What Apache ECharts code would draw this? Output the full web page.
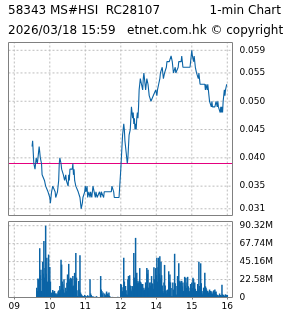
<!DOCTYPE html>
<html><head><meta charset="utf-8">
<script src="https://cdn.jsdelivr.net/npm/echarts@6/dist/echarts.min.js"></script>
<style>html,body{margin:0;padding:0;background:#fff;}#c{width:285px;height:318px;}</style>
</head><body><div id="c"></div>
<script>
// ---- texts ----
const headerLeft = '58343 MS#HSI  RC28107';
const headerRight = '1-min Chart';
const headerLine2 = '2026/03/18 15:59   etnet.com.hk \u00a9 copyright';

// ---- axis ticks (session minutes from 09:00, lunch 12:00-13:00 removed) ----
const xTickMinutes = [0, 60, 120, 180, 240, 300, 360];
const xTickLabels = ['09', '10', '11', '12', '14', '15', '16'];
const priceTicks = [0.031, 0.035, 0.040, 0.045, 0.050, 0.055, 0.059];
const volumeTicks = [0, 22.58, 45.16, 67.74, 90.32];
const volumeTickLabels = ['0', '22.58M', '45.16M', '67.74M', '90.32M'];
const prevClose = 0.039;

const amStart = 30;   // 09:30
const pmStart = 180;  // 13:00

// ---- price, one value per minute ----
const amPrice = [
0.042,0.043,0.041,0.039,0.039,0.038,0.039,0.040,0.040,0.039,
0.040,0.041,0.042,0.041,0.040,0.040,0.039,0.037,0.037,0.037,
0.037,0.036,0.036,0.035,0.035,0.035,0.035,0.034,0.034,0.034,
0.033,0.032,0.033,0.034,0.034,0.035,0.035,0.035,0.035,0.034,
0.033,0.033,0.033,0.034,0.034,0.036,0.039,0.040,0.040,0.039,
0.038,0.038,0.038,0.037,0.037,0.036,0.036,0.037,0.036,0.036,
0.036,0.035,0.037,0.036,0.038,0.038,0.038,0.038,0.038,0.039,
0.037,0.038,0.036,0.036,0.035,0.035,0.035,0.035,0.034,0.034,
0.034,0.033,0.032,0.031,0.031,0.032,0.033,0.033,0.033,0.034,
0.035,0.034,0.034,0.035,0.033,0.033,0.034,0.034,0.033,0.034,
0.034,0.033,0.034,0.035,0.035,0.034,0.034,0.033,0.034,0.034,
0.033,0.033,0.033,0.033,0.034,0.034,0.033,0.034,0.034,0.034,
0.034,0.033,0.034,0.034,0.034,0.034,0.034,0.034,0.034,0.034,
0.034,0.034,0.034,0.034,0.034,0.035,0.035,0.035,0.034,0.033,
0.033,0.033,0.033,0.033,0.033,0.033,0.033,0.033,0.033,0.033,0.033
];
const pmPrice = [
0.038,0.040,0.042,0.044,0.045,0.046,0.045,0.043,0.042,0.041,
0.040,0.039,0.040,0.042,0.044,0.044,0.045,0.047,0.049,0.048,
0.047,0.048,0.046,0.047,0.045,0.046,0.045,0.047,0.048,0.047,
0.049,0.052,0.053,0.054,0.054,0.053,0.053,0.052,0.054,0.055,
0.054,0.054,0.052,0.053,0.054,0.054,0.053,0.052,0.051,0.051,
0.051,0.050,0.050,0.050,0.050,0.051,0.051,0.051,0.051,0.052,
0.052,0.051,0.052,0.052,0.053,0.053,0.054,0.055,0.055,0.055,
0.056,0.055,0.054,0.054,0.055,0.055,0.055,0.056,0.057,0.057,
0.057,0.057,0.057,0.057,0.057,0.058,0.058,0.057,0.056,0.055,
0.055,0.055,0.056,0.055,0.055,0.055,0.055,0.056,0.057,0.057,
0.057,0.057,0.057,0.058,0.057,0.056,0.056,0.056,0.056,0.056,
0.056,0.056,0.056,0.056,0.056,0.056,0.056,0.056,0.056,0.056,
0.059,0.058,0.058,0.057,0.058,0.057,0.056,0.056,0.055,0.055,
0.055,0.054,0.055,0.054,0.053,0.053,0.053,0.053,0.053,0.053,
0.053,0.053,0.053,0.052,0.053,0.053,0.052,0.053,0.052,0.051,
0.050,0.050,0.050,0.049,0.050,0.049,0.049,0.049,0.049,0.049,
0.049,0.050,0.050,0.049,0.050,0.049,0.049,0.049,0.048,0.049,
0.048,0.049,0.048,0.050,0.051,0.052,0.051,0.052,0.052,0.053,0.053
];

// ---- volume (millions), one value per minute ----
const amVolume = [
0,0,0,0,0,0,0,0,12.4,8,
24,22.8,15,62,28,35,8.3,6,45,30,
71,25,37,90.32,30,50,20,16.6,54,25,
38.5,20,2,6.2,4,9.5,6,7.5,8.3,5,
5,3,5,4,7.5,9,6,14.5,10,47.6,
41.4,20,16.6,10,22.8,6.2,4,12.4,8,18.6,
29,15,42.3,20,22.8,24.9,18,24,14,27,
15,8.3,31,20,56,25,9,2,1.5,20.7,
10,53,6.2,4,3.3,2,1.7,1.7,1,3.3,
2,1.5,1,1.5,2.9,1.5,1.5,1,22.8,5,
3,2,1,0.8,1.2,0,0,0.8,0,1.7,
0,0,0,0,0,0,27,10,8.3,4,
6.2,0,0,5,3,2,7.5,4,5,3,
6.2,2,1,0,0,0,0.8,0,0,0,
0,0,0,0,0,0.8,0,0,0,0,0
];
const pmVolume = [
17,16,13,8,6,50,20,6,14.5,9,
4,3,23,27,12,28,15,10,8,14.5,
14,11,56,25,20,75,22,31,18,21,
19,14,37,20,19,17,12,17,9,12.4,
10,8.3,19,14,37,30,35,12.4,9,19,
15,19,27,18,17,11,38,23,16,37,
28,50,20,38,50,30,52,24,45,28,
15,8.3,6,19,41,15,8.3,5,9,10,
7,33,20,29,19,12,2,1.5,19,10,
8.3,55,18,4,3,14.5,27,16,43,20,
21,19,13,21,14,19,8.3,6,26,15,
25,12,19,26,14,12.4,8,6.2,17,10,
19,12,25,23,15,19,11,3.3,8.3,5,
17,10,45,14.5,12,43,18,6.2,4,8.3,
12.4,9,31,14,12.4,10,7,8.3,6,6.2,
10,6,8.3,5,7.5,5,3,9,6,10,
7,7.5,4,3,2,1.5,3.3,5,3,3.3,
2,16,4,3,3.3,2,2,4,3,2,3.3
];

// ---- build series data through the axes ----
const priceData = amPrice.map((v, i) => [amStart + i, v])
  .concat(pmPrice.map((v, i) => [pmStart + i, v]));
const volumeData = amVolume.map((v, i) => [amStart + i, v])
  .concat(pmVolume.map((v, i) => [pmStart + i, v]));

function lookup(vals, labels, v) {
  for (let i = 0; i < vals.length; i++) if (Math.abs(vals[i] - v) < 1e-7) return labels[i];
  return '';
}

const blue = '#0b64a6';
const frame = '#808080';
const gridLine = { color: '#bdbdbd', type: [2, 2], width: 1 };
const labelFont = { color: '#000', fontFamily: 'DejaVu Sans', fontSize: 9 };
const X_MIN = -9.8, X_MAX = 368.8;
const P_MIN = 0.029813, P_MAX = 0.060378;
const V_MIN = 0, V_MAX = 95.6;

function seg(name, xi, yi, pts, style, z) {
  return { type: 'line', name: name, xAxisIndex: xi, yAxisIndex: yi, data: pts, z: z, silent: true,
    symbol: 'none', showSymbol: false, lineStyle: style, animation: false, emphasis: { disabled: true } };
}
const gridSeries = [];
priceTicks.forEach(v => gridSeries.push(seg('gp' + v, 0, 0, [[X_MIN, v], [X_MAX, v]], gridLine, 1)));
xTickMinutes.forEach(m => gridSeries.push(seg('gx0' + m, 0, 0, [[m, P_MIN], [m, P_MAX]], gridLine, 1)));
volumeTicks.slice(1).forEach(v => gridSeries.push(seg('gv' + v, 1, 1, [[X_MIN, v], [X_MAX, v]], gridLine, 1)));
xTickMinutes.forEach(m => gridSeries.push(seg('gx1' + m, 1, 1, [[m, V_MIN], [m, V_MAX]], gridLine, 1)));
gridSeries.push(seg('prevClose', 0, 0, [[X_MIN, prevClose], [X_MAX, prevClose]], { color: '#e4007f', width: 1, type: 'solid' }, 2));

const chart = echarts.init(document.getElementById('c'), null, { renderer: 'canvas' });
chart.setOption({
  animation: false,
  backgroundColor: '#fff',
  grid: [
    { left: 8.5, top: 42.5, width: 224, height: 173, show: true, borderColor: frame, borderWidth: 1, backgroundColor: 'transparent', z: 5 },
    { left: 8.5, top: 221.5, width: 224, height: 76, show: true, borderColor: frame, borderWidth: 1, backgroundColor: 'transparent', z: 5 }
  ],
  xAxis: [
    { type: 'value', gridIndex: 0, min: X_MIN, max: X_MAX, axisLine: { show: false }, axisTick: { show: false }, axisLabel: { show: false }, splitLine: { show: false } },
    { type: 'value', gridIndex: 1, min: X_MIN, max: X_MAX, axisLine: { show: false },
      axisTick: { show: true, customValues: xTickMinutes, length: 2, lineStyle: { color: frame } },
      axisLabel: Object.assign({ customValues: xTickMinutes, margin: 5, formatter: v => lookup(xTickMinutes, xTickLabels, v) }, labelFont),
      splitLine: { show: false } }
  ],
  yAxis: [
    { type: 'value', gridIndex: 0, position: 'right', min: P_MIN, max: P_MAX, axisLine: { show: false }, axisTick: { show: false },
      axisLabel: Object.assign({ customValues: priceTicks, margin: 7, formatter: v => v.toFixed(3) }, labelFont),
      splitLine: { show: false } },
    { type: 'value', gridIndex: 1, position: 'right', min: V_MIN, max: V_MAX, axisLine: { show: false }, axisTick: { show: false },
      axisLabel: Object.assign({ customValues: volumeTicks, margin: 7, formatter: v => lookup(volumeTicks, volumeTickLabels, v) }, labelFont),
      splitLine: { show: false } }
  ],
  series: gridSeries.concat([
    { type: 'line', name: 'price', xAxisIndex: 0, yAxisIndex: 0, data: priceData, z: 3, silent: true,
      showSymbol: false, symbol: 'none', lineStyle: { color: blue, width: 1.1 } },
    { type: 'bar', name: 'volume', xAxisIndex: 1, yAxisIndex: 1, data: volumeData, z: 3, silent: true,
      barWidth: 1.5, itemStyle: { color: blue } }
  ]),
  graphic: [
    { type: 'text', x: 8, y: 10.5, style: { text: headerLeft, font: '12px "DejaVu Sans"', fill: '#000', align: 'left', verticalAlign: 'middle' } },
    { type: 'text', x: 281, y: 10.5, style: { text: headerRight, font: '12px "DejaVu Sans"', fill: '#000', align: 'right', verticalAlign: 'middle' } },
    { type: 'text', x: 8, y: 30.5, style: { text: headerLine2, font: '12px "DejaVu Sans"', fill: '#000', align: 'left', verticalAlign: 'middle' } }
  ]
});
</script>
</body></html>
